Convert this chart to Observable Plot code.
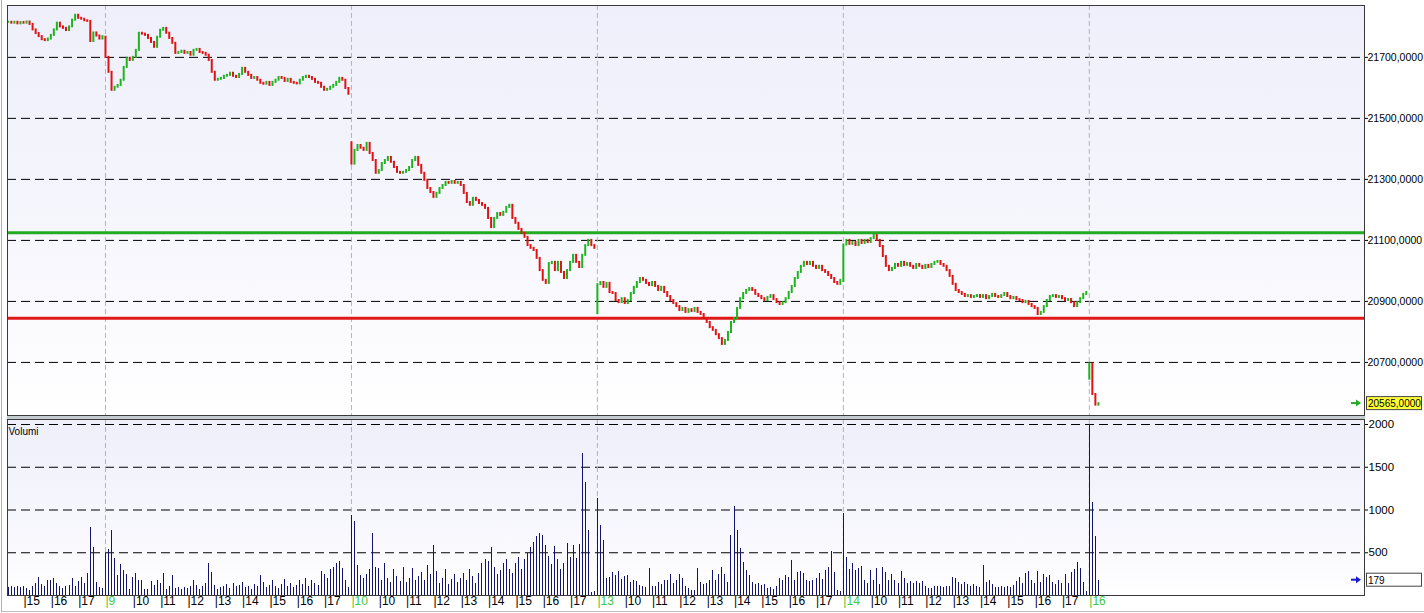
<!DOCTYPE html>
<html><head><meta charset="utf-8">
<script src="https://cdn.jsdelivr.net/npm/d3@7"></script>
<script src="https://cdn.jsdelivr.net/npm/@observablehq/plot@0.6"></script>
<style>
html,body{margin:0;padding:0;background:#fff;}
#wrap{position:relative;width:1424px;height:613px;overflow:hidden;font-family:"Liberation Sans",Arial,sans-serif;}
#wrap svg{position:absolute;left:0;overflow:visible;}
.sep{position:absolute;}
</style></head><body><div id="wrap"></div>
<script>
// ---------- DATA ----------
const day0Close = [21815,21812,21815,21810,21814,21812,21816,21808,21790,21778,21768,21758,21755,21760,21772,21790,21812,21800,21795,21788,21800,21822,21838,21828,21825,21820,21818,21752,21780,21770,21760,21768];
const day1Close = [21700,21651,21592,21602,21608,21625,21667,21697,21690,21700,
21723,21779,21776,21772,21762,21749,21733,21766,21789,21795,
21779,21762,21746,21713,21716,21720,21713,21716,21707,21723,
21726,21716,21713,21707,21690,21651,21625,21628,21631,21638,
21641,21648,21638,21634,21644,21664,21651,21641,21631,21634,
21625,21615,21612,21618,21608,21618,21625,21634,21631,21621,
21628,21618,21615,21613,21625,21634,21638,21634,21628,21618,
21615,21602,21592,21595,21602,21608,21618,21631,21625,21598,
21579];
const day2Close = [21350,21395,21411,21402,21395,21418,21385,21362,21320,21329,
21352,21362,21372,21356,21339,21323,21320,21323,21329,21339,
21362,21372,21346,21320,21297,21270,21257,21241,21254,21270,
21280,21290,21287,21293,21287,21290,21280,21254,21224,21215,
21238,21231,21221,21215,21205,21172,21142,21172,21188,21182,
21192,21208,21215,21172,21156,21136,21123,21110,21083,21074,
21067,21041,21001,20969,20959,21024,21028,21001,21028,20995,
20975,21001,21028,21051,21028,21011,21051,21083,21100,21083,
21074];
const day3Close = [20955,20962,20946,20959,20929,20926,20903,20896,20909,20893,
20903,20926,20946,20962,20975,20969,20959,20952,20962,20949,
20936,20946,20929,20916,20903,20893,20883,20870,20877,20864,
20873,20867,20877,20864,20857,20844,20831,20814,20805,20791,
20778,20759,20772,20798,20831,20844,20877,20909,20926,20936,
20942,20936,20923,20916,20909,20903,20913,20919,20906,20896,
20890,20896,20909,20929,20949,20975,20995,21015,21028,21021,
21028,21015,21008,21015,21001,20995,20985,20975,20962,20956,
20969];
const day4Close = [21085,21100,21087,21093,21083,21100,21090,21100,21093,21106,
21116,21100,21080,21047,21015,21001,21008,21021,21015,21028,
21018,21024,21015,21008,21021,21015,21008,21018,21011,21021,
21028,21031,21021,21015,21001,20982,20956,20936,20929,20923,
20916,20919,20913,20916,20919,20913,20919,20909,20916,20923,
20916,20913,20919,20926,20916,20909,20913,20906,20903,20896,
20900,20890,20883,20877,20857,20864,20883,20903,20916,20919,
20913,20916,20909,20903,20906,20896,20883,20896,20909,20923,
20929];
const day5Close = [20695,20595,20560,20565];
const dayOpen = [21815,21766,21420,20860,20965,20645];

const day0Vol = [95,100,90,110,95,105,80,60,100,140,210,130,100,170,180,200,140,100,80,110,120,200,110,160,210,140,260,800,560,150,90,80];
const day1Vol = [490,540,760,430,230,360,290,250,70,210,
260,180,170,70,75,165,120,175,140,260,
70,100,230,80,95,70,90,80,100,180,
120,70,100,140,380,270,120,70,90,110,
130,80,140,100,120,150,90,110,70,130,
100,230,150,90,120,170,100,80,130,190,
110,140,90,120,170,130,200,110,170,140,
120,280,250,200,300,330,370,400,320,180,
90];
const day2Vol = [940,860,350,230,200,240,300,730,330,320,
180,380,200,150,300,220,160,330,150,200,
320,180,220,270,170,350,250,580,280,140,
200,300,130,190,240,150,200,260,170,300,
220,140,260,380,420,400,560,330,250,290,
380,420,300,260,370,450,300,420,490,560,
620,690,720,700,590,460,360,570,420,300,
380,610,450,590,430,600,1660,1320,760,40,
50];
const day3Vol = [1140,820,640,200,210,270,230,280,190,220,
230,150,180,160,120,110,90,320,100,110,
150,130,170,180,240,140,180,250,200,110,
80,60,60,320,150,130,140,180,290,170,
250,330,240,150,700,1040,760,550,390,290,
230,150,130,140,120,130,80,90,70,110,
200,180,230,210,410,180,270,280,260,180,
160,180,200,260,190,290,330,520,270,60,
50];
const day4Vol = [960,450,300,380,290,320,340,170,140,290,
170,310,130,330,270,180,250,170,140,280,
200,140,160,140,160,140,160,100,80,80,
100,100,100,95,100,100,210,200,150,130,
150,130,100,130,100,90,350,150,180,130,
90,90,100,95,100,90,120,160,210,140,
260,280,180,140,280,150,250,210,230,150,
130,180,140,250,140,270,300,390,320,150,
50];
const day5Vol = [2000,1090,690,179];

const dayFirstBar = [49,0,0,0,0,0];       // first bar slot of each session
const barsPerHour = 9, hoursPerDay = 9;
const dayNumbers = [9,10,13,14,16];        // green day labels
const firstDayHours = [15,16,17];
const sessionHours = [10,11,12,13,14,15,16,17];
const priceTicks = [20700,20900,21100,21300,21500,21700];
const volTicks = [500,1000,1500,2000];
const greenLevel = 21125, redLevel = 20845;
const lastPrice = 20565, lastVol = 179;

// ---------- BUILD ----------
const closes = [day0Close,day1Close,day2Close,day3Close,day4Close,day5Close];
const vols = [day0Vol,day1Vol,day2Vol,day3Vol,day4Vol,day5Vol];
const bars = [];
closes.forEach((arr,d)=>{
  let prev = dayOpen[d];
  arr.forEach((c,k)=>{
    const j = dayFirstBar[d]+k;
    bars.push({u: d*hoursPerDay + j/barsPerHour, open: prev, close: c, vol: vols[d][k]});
    prev = c;
  });
});
const dayStarts = dayNumbers.map((n,i)=>(i+1)*hoursPerDay);
const xTicks = [];
firstDayHours.forEach(h=>xTicks.push({u: h-9, label: String(h), color: "#000"}));
dayNumbers.forEach((n,i)=>{
  const d = i+1;
  xTicks.push({u: d*hoursPerDay, label: String(n), color: "#3ec83e"});
  if (d < dayNumbers.length) sessionHours.forEach(h=>xTicks.push({u: d*hoursPerDay + (h-9), label: String(h), color: "#000"}));
});

const xDomain = [5.415, 55.07];
const UP = "#1fb41f", DOWN = "#e01212";
const fontP = {fontFamily: "Liberation Sans, Arial, sans-serif", fontSize: "10.5px", background: "transparent", overflow: "visible"};
const fontV = {fontFamily: "Liberation Sans, Arial, sans-serif", fontSize: "11.5px", background: "transparent", overflow: "visible"};

const pricePlot = Plot.plot({
  width: 1424, height: 416, marginLeft: 7, marginRight: 60, marginTop: 5, marginBottom: 1,
  style: fontP,
  x: {domain: xDomain, axis: null},
  y: {domain: [20526, 21870], axis: "right", ticks: priceTicks, tickFormat: d => d + ",0000", tickSize: 3, tickPadding: 0, label: null},
  marks: [
    Plot.frame({fill: "url(#bgGradP)"}),
    Plot.ruleY(priceTicks, {stroke: "#000", strokeDasharray: "9,5", strokeWidth: 1}),
    Plot.ruleX(dayStarts, {stroke: "#b4b4b4", strokeDasharray: "5,3", strokeWidth: 1}),
    Plot.ruleY([greenLevel], {stroke: "#22aa22", strokeWidth: 3}),
    Plot.ruleY([redLevel], {stroke: "#e01818", strokeWidth: 3}),
    Plot.ruleX(bars, {x: "u", y1: "open", y2: "close", stroke: d => d.close >= d.open ? UP : DOWN, strokeWidth: 2, strokeLinecap: "square"}),
    Plot.frame({stroke: "#3a3a3a", strokeWidth: 1})
  ]
});

const volPlot = Plot.plot({
  width: 1424, height: 197, marginLeft: 7, marginRight: 60, marginTop: 3, marginBottom: 18,
  style: fontV,
  x: {domain: xDomain, axis: null},
  y: {domain: [0, 2058.5], axis: "right", ticks: volTicks, tickSize: 3, tickPadding: 1, tickFormat: d => String(d), label: null},
  marks: [
    Plot.frame({fill: "url(#bgGradV)"}),
    Plot.ruleY(volTicks, {stroke: "#000", strokeDasharray: "9,5", strokeWidth: 1}),
    Plot.ruleX(dayStarts, {stroke: "#b4b4b4", strokeDasharray: "5,3", strokeWidth: 1}),
    Plot.ruleX(bars, {x: "u", y1: 0, y2: "vol", stroke: "#14146e", strokeWidth: 1, shapeRendering: "crispEdges"}),
    Plot.text(xTicks, {x: "u", text: d => "|" + d.label, fill: "color", frameAnchor: "bottom", dy: 9, textAnchor: "start", fontSize: 12}),
    Plot.text(["Volumi"], {frameAnchor: "top-left", dx: 1, dy: 8, fontSize: 10, fill: "#000"}),
    Plot.frame({stroke: "#3a3a3a", strokeWidth: 1})
  ]
});

const wrap = document.getElementById("wrap");
pricePlot.style.top = "0px";
volPlot.style.top = "416px";
wrap.appendChild(pricePlot);
wrap.appendChild(volPlot);

function addGrad(svg, id){
  svg.insertAdjacentHTML("afterbegin",
    `<defs><linearGradient id="${id}" x1="0" y1="0" x2="0" y2="1">
      <stop offset="0" stop-color="#efeffb"/><stop offset="0.55" stop-color="#f6f6fd"/><stop offset="1" stop-color="#ffffff"/>
    </linearGradient></defs>`);
}
addGrad(pricePlot, "bgGradP");
addGrad(volPlot, "bgGradV");

// value tags on the right axis
function tag(svg, yv, text, fill, arrowColor){
  const g = d3.select(svg).append("g");
  g.append("line").attr("x1",1351).attr("x2",1357).attr("y1",yv).attr("y2",yv).attr("stroke",arrowColor).attr("stroke-width",2);
  g.append("path").attr("d",`M1356,${yv-3.5}L1361,${yv}L1356,${yv+3.5}Z`).attr("fill",arrowColor);
  g.append("rect").attr("x",1366.5).attr("y",yv-6.5).attr("width",55).attr("height",13).attr("fill",fill).attr("stroke","#444").attr("stroke-width",1);
  g.append("text").attr("x",1368).attr("y",yv+4).attr("text-anchor","start").attr("font-size",10).attr("font-family","Liberation Sans, Arial, sans-serif").attr("fill","#000").text(text);
}
tag(pricePlot, pricePlot.scale("y").apply(lastPrice), lastPrice + ",0000", "#ffff38", "#22aa22");
tag(volPlot, volPlot.scale("y").apply(lastVol), String(lastVol), "#ffffff", "#1a1ad0");

// separator band between panels and outer border
const sep = document.createElement("div");
sep.className = "sep";
sep.style.cssText = "left:7px;top:416px;width:1358px;height:3px;background:#c4ccd2;";
wrap.appendChild(sep);
const border = document.createElement("div");
border.className = "sep";
border.style.cssText = "left:1px;top:0;width:1422px;height:611px;border-left:1px solid #b0b0b0;border-bottom:1px solid #c0c0c0;pointer-events:none;";
wrap.appendChild(border);
</script></body></html>
